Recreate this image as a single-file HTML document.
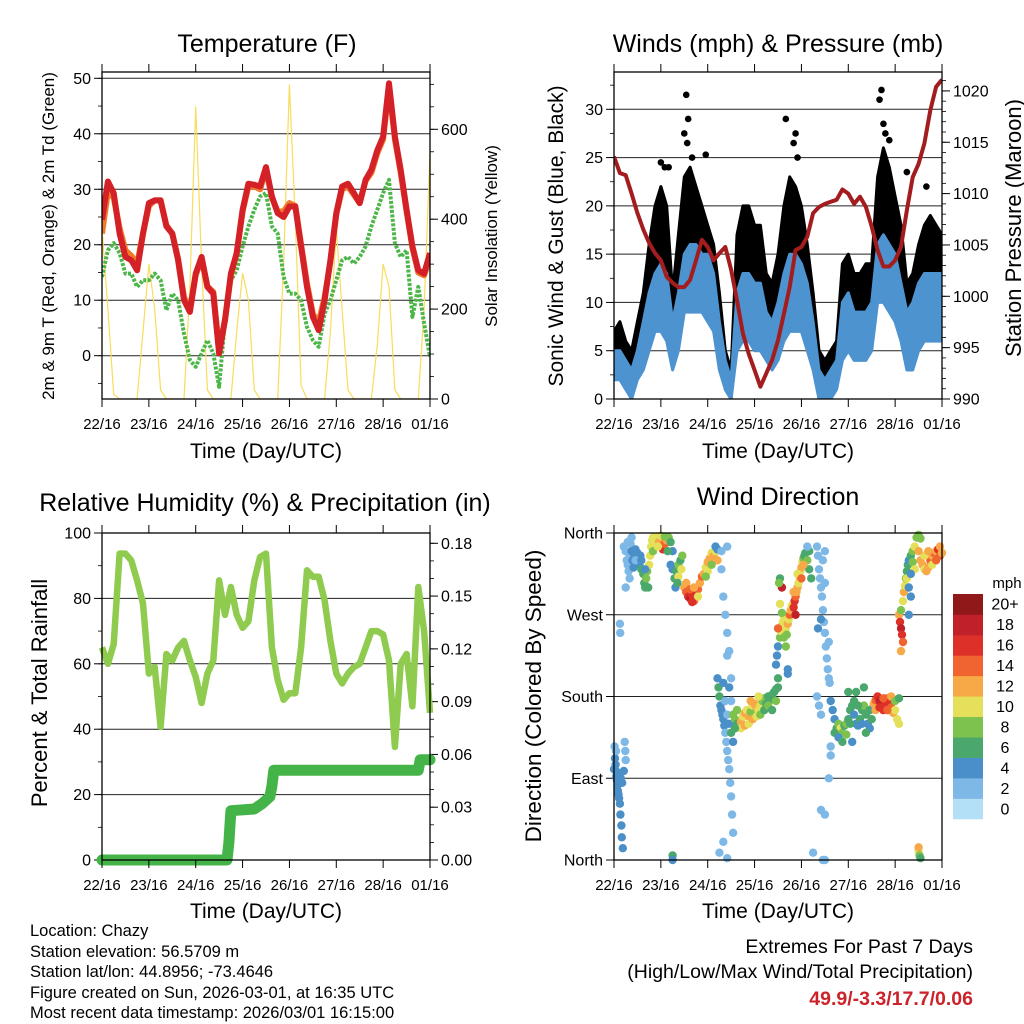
<!DOCTYPE html>
<html><head><meta charset="utf-8"><style>
html,body{margin:0;padding:0;background:#fff}
svg{display:block;font-family:"Liberation Sans",Arial,sans-serif}
</style></head><body>
<svg id="fig" width="1024" height="1024" viewBox="0 0 1024 1024" xmlns="http://www.w3.org/2000/svg">
<rect width="1024" height="1024" fill="#fff"/>
<g id="p1"></g>
<g id="p2"></g>
<g id="p3"></g>
<g id="p4"></g>
<g font-size="16.5" fill="#000">
<text x="30" y="936">Location: Chazy</text>
<text x="30" y="957">Station elevation: 56.5709 m</text>
<text x="30" y="977">Station lat/lon: 44.8956; -73.4646</text>
<text x="30" y="998">Figure created on Sun, 2026-03-01, at 16:35 UTC</text>
<text x="30" y="1018">Most recent data timestamp: 2026/03/01 16:15:00</text>
</g>
<g font-size="19.5" text-anchor="end">
<text x="973" y="953">Extremes For Past 7 Days</text>
<text x="973" y="978">(High/Low/Max Wind/Total Precipitation)</text>
<text x="973" y="1005" font-weight="bold" fill="#cc2229">49.9/-3.3/17.7/0.06</text>
</g>
</svg>
<script>
// ---- shared time axis ----
const dayLabels = ["22/16","23/16","24/16","25/16","26/16","27/16","28/16","01/16"];
const hours3 = [];
for (let i = 0; i <= 56; i++) hours3.push(i * 3);

// ---- Panel 1: temperature ----
const temp2m = [24.5,31.4,29.3,22,17.8,17.2,15.4,22,27.5,28,28,23.3,22,17.2,10,7.9,14.8,17.8,12.4,11.2,0.4,6.4,14.8,18.5,26.3,31,30.8,30.5,34,28.7,25.7,25,26.9,26.9,19.7,12.4,7,4.6,10,17.2,25.7,30.5,31,29.3,27.5,31.7,33.5,37,39.5,49.1,39.5,33.5,26.3,19.7,15.4,14.8,18.5];
const temp9m = [22,29.5,28.5,23,19,18,16.5,22,27,28,28,23.5,22,17.5,10.5,8.5,14.5,17.5,12.5,11.5,1,6.5,14.5,18.5,26,30.5,30.5,30,33.5,28.5,26,26,27.5,27,20,13,7.5,6,10.5,17,25.5,30,30.5,29,27.5,31.5,33,36.5,39,48.5,39,33,26,19.5,15,14.5,17.5];
const dewpoint = [14.2,19,20.3,18.5,14.8,14.8,12.4,13.6,13.6,14.8,13.6,8.2,11.2,10,4,-0.8,-2,0.4,2.8,0.4,-5.6,6.4,13.6,15.4,19.7,23.3,26.3,28.7,29.3,23.3,22,14.2,11.2,11.2,10,5.2,2.8,1.6,7.6,10,13.6,17.2,17.8,16.6,17.8,19.7,23.3,26.3,29.3,31.7,20.3,17.8,19,7,12.4,5.8,-0.2];
const solar = [380,200,10,0,0,0,0,150,300,200,20,0,0,0,0,250,650,300,20,0,0,0,0,150,280,220,20,0,0,0,0,300,700,400,30,0,0,0,0,150,380,200,20,0,0,0,0,120,300,250,20,0,0,0,0,200,550];
const tempTicks = [0,10,20,30,40,50];
const solarTicks = [0,200,400,600];

// ---- Panel 2: winds & pressure ----
const windLo = [2,2,1,0,2,3,5,7,7,6,3,5,9,9,9,9,8,7,3,1,0,5,6,6,5,5,4,3,4,6,7,7,7,5,3,0,0,0,1,4,5,4,4,4,5,10,10,9,8,6,3,3,5,6,6,6,6];
const windHi = [5,5,4,3,5,8,11,13,14,13,8,11,15,16,16,15,15,13,8,4,2,11,13,13,12,12,9,8,10,13,15,15,14,12,8,3,2,3,4,10,11,9,9,9,10,16,17,16,15,12,9,10,12,13,13,13,13];
const gustLo = [4,4,3,3,4,5,9,11,12,10,5,8,12,14,13,12,12,10,5,1,0,8,10,10,9,9,7,7,8,10,11,12,11,9,5,0,0,1,2,7,8,6,6,7,8,15,16,14,12,10,6,7,9,10,10,10,10];
const gustHi = [7,8,6,5,8,11,16,20,22,20,11,17,23,24,22,20,18,16,11,5,3,17,20,20,18,18,13,12,15,20,23,22,20,16,11,5,4,5,6,14,15,13,13,14,14,23,26,24,21,18,12,13,16,18,19,18,17];
const gustPeakTimes = [37,38,36,37.5,88,93,92,94,137,136,138,141,139,160,24,26,28,47,40,150];
const gustPeakValues = [31.5,29,27.5,26.5,29,27.5,26.5,25,32,31,28.5,26.8,27.5,22,24.5,24,24,25.3,25,23.5];
const pressure = [1013.6,1012,1011.8,1010,1008.1,1006.5,1005.2,1004.2,1003.5,1001.9,1001.3,1000.9,1000.9,1001.6,1003.5,1005.5,1004.8,1003.5,1004.2,1004.8,1002.6,999.6,996.4,994.4,992.8,991.2,992.5,993.8,995.7,998.3,1000.9,1004.5,1004.8,1005.8,1008.1,1008.7,1009,1009.2,1009.4,1010.4,1010,1009,1009.7,1008.7,1006.8,1004.5,1002.9,1002.9,1003.5,1004.8,1008.4,1011.6,1012.9,1014.9,1018.1,1020.4,1021.1];
const windTicks = [0,5,10,15,20,25,30];
const pressTicks = [990,995,1000,1005,1010,1015,1020];

// ---- Panel 3: RH & precip ----
const rh = [65,60,66,93.7,93.7,91.6,85.5,78.4,57,59,40.7,63,61,65,67,61,56,48,57,61,85.5,75,83.5,75,71,73,85.5,92.7,93.7,65,55,49,51,51,65,88.6,86.6,86.6,79.4,67,57,54,57,59,60,65,70,70,69,61,34.6,60,63,47,83.5,70,45];
const precipTimes = [0,64,65,66,78,82,86,87,88,162,163,168];
const precipValues = [0,0,0.01,0.028,0.029,0.032,0.036,0.042,0.051,0.051,0.057,0.057];
const rhTicks = [0,20,40,60,80,100];
const precipTicks = [0,0.03,0.06,0.09,0.12,0.15,0.18];
const precipTickLabels = ["0.00","0.03","0.06","0.09","0.12","0.15","0.18"];

// ---- Panel 4: wind direction [hour, degrees, mph] ----
const dirPoints = [
[0.3,125,2],[0.5,112,4],[0.8,105,4],[1,98,4],[1.2,92,4],[1.5,88,4],[1.8,82,4],[2,76,4],[2.3,72,4],[2.6,68,4],[3,62,4],[3.3,50,4],[3.8,38,4],[4,25,4],[4.5,13,4],[5.5,130,2],[5.8,120,2],[6,110,2],[1,120,2],[2.5,95,4],[3.5,90,4],[4.2,85,4],[0,100,4],[5,98,4],
[5,345,2],[6,340,2],[6.5,330,2],[7,325,2],[7.5,318,2],[8,335,2],[8.5,348,2],[9,340,4],[9.5,330,4],[10,322,4],[10.5,335,4],[11,342,4],[12,338,4],[12.5,330,4],[13,325,4],[13.5,335,4],[14,320,6],[15,315,6],[15.5,305,6],[16,300,6],[16.5,310,8],[17,318,8],[18,325,10],[18.5,335,10],[19,345,10],[19.5,352,10],[20,355,10],[7,350,2],[8,310,2],[6,300,2],[9,355,2],[11,330,2],[14,330,4],[16,320,4],[17.5,300,6],[20,340,8],
[22,355,10],[23,350,12],[24,345,14],[25,342,16],[26,348,14],[27,352,12],[28,355,8],[29,350,6],[30,340,4],[24,357,10],[26,356,8],[22.5,345,10],[27.5,340,6],[29,325,4],
[30,320,4],[31,310,6],[31.5,300,4],[32,318,6],[33,325,8],[34,330,6],[35,335,8],[33,312,10],[34.5,320,10],[32.5,305,6],
[36,300,12],[37,295,14],[38,290,16],[39,288,18],[40,292,16],[41,285,14],[42,290,16],[43,298,14],[44,305,12],[45,312,14],[37,305,12],[39,298,14],[41,300,12],[43,290,10],[40,284,16],
[46,315,12],[47,322,10],[48,328,12],[49,332,12],[50,338,10],[51,335,12],[52,340,10],[53,330,12],[48,318,10],[50,325,8],[47,312,8],[52,345,4],[53,342,4],
[55,320,2],[56,290,2],[57,270,2],[58,250,2],[59,230,2],[55,340,2],[60,200,2],[58,225,2],[3,260,2],[3.2,250,2],[58,345,2],
[53,200,4],[53.5,190,6],[54,180,6],[54.5,170,4],[55,165,4],[55.5,160,4],[56,155,4],[56.5,148,4],[57,140,2],[57.5,130,2],[58,120,2],[58.5,110,2],[59,100,2],[59.5,85,2],[60,70,2],[60.5,50,2],[61,30,2],[56,195,4],[57,175,2],[58,160,2],[59,150,4],[60,140,6],[61,130,4],[54,8,2],[58,2,2],[56,20,2],[60,175,2],[59,190,4],
[61,160,8],[62,155,8],[63,150,6],[64,148,6],[65,152,12],[66,158,10],[67,162,12],[68,165,10],[69,158,12],[70,163,8],[71,170,10],[72,172,12],[73,168,12],[74,165,10],[75,170,10],[76,175,8],[77,178,8],[78,172,6],[79,180,6],[80,176,6],[81,182,6],[82,185,6],[83,188,6],[84,190,6],[65,145,10],[67,148,12],[69,150,10],[71,155,12],[73,158,10],[75,160,8],[77,165,6],[62,145,6],[63,165,8],[70,175,12],[74,180,10],[79,170,8],[81,165,6],[83,175,8],[84,200,6],
[83,215,4],[83.5,225,4],[84,235,4],[85,245,8],[85.5,252,10],[86,258,12],[86.5,262,10],[87,268,10],[88,255,10],[88.5,248,8],[89,260,12],[89.5,265,10],[90,270,14],[90.5,275,12],[91,280,10],[87,245,8],[85,282,10],[86,272,8],[84,255,14],[88,235,8],[89,210,4],[89,205,4],[85,310,6],[86,300,18],[84.5,305,8],
[92,278,16],[92.5,285,16],[93,290,14],[93.5,295,12],[94,300,12],[94.5,305,10],[95,312,12],[95.5,318,10],[96,322,12],[96.5,328,10],[97,332,8],[97.5,335,6],[98,338,6],[99,330,8],[100,320,6],[101,310,6],[92,295,12],[94,315,10],[96,310,14],[97,325,12],[93,270,18],[100,340,6],[99,345,2],
[104,345,2],[104.5,335,2],[105,320,2],[105.5,310,2],[106,300,2],[106.5,290,2],[107,275,2],[107.5,262,2],[108,250,2],[108.5,235,2],[109,222,2],[109.5,210,2],[110,200,2],[110.5,195,2],[104,180,2],[105,170,2],[106,160,2],[104.5,255,4],[106,265,4],[108,305,2],[107,330,2],[108,340,2],[110,240,2],[110,90,2],[111,125,2],[111,115,2],[106,55,2],[108,50,2],[102,8,2],[107,0,2],[108,0,2],
[111,175,4],[112,165,4],[113,155,4],[114,145,6],[115,150,8],[116,145,10],[117,140,8],[118,148,6],[119,150,8],[120,155,6],[121,165,6],[122,170,6],[123,160,4],[124,150,4],[125,148,4],[126,155,6],[127,165,6],[128,170,8],[129,160,6],[130,150,4],[131,145,4],[132,155,6],[113,140,6],[115,135,4],[117,130,6],[119,138,8],[121,150,6],[123,175,6],[125,170,6],[127,150,4],[129,140,6],[131,165,6],[133,170,4],[120,185,6],[124,185,6],[128,190,6],[122,130,4],
[133,172,12],[134,176,14],[135,180,16],[136,175,18],[137,170,18],[138,165,16],[139,172,16],[140,178,14],[141,175,16],[142,168,14],[143,162,12],[144,165,10],[145,155,10],[146,150,10],[134,165,12],[136,168,16],[138,178,14],[140,165,14],[142,180,12],[144,175,8],[146,178,6],
[146,270,12],[146.5,262,16],[147,255,18],[147.5,248,16],[148,240,14],[147,230,12],
[147,275,8],[148,285,10],[148.5,295,12],[149,302,10],[149.5,310,8],[150,318,6],[150.5,325,6],[151,330,4],[152,335,6],[153,340,8],[154,345,10],[155,355,8],[156,358,8],[157,354,8],[151,300,4],[152,290,4],[150,310,10],[153,328,8],[154,320,10],[152,315,4],[151,270,4],
[157,330,12],[158,325,12],[159,320,10],[160,318,12],[161,322,12],[162,330,14],[163,335,12],[164,338,14],[165,340,12],[166,342,16],[167,335,14],[168,338,12],[159,335,10],[161,340,12],[163,325,10],[165,330,14],[167,345,12],[156,340,12],
[156,10,10],[156.5,5,8],[157,2,6],[156,14,12],[30,5,6],[30,0,4]
];
const dirTicks = [0,90,180,270,360];
const dirTickLabels = ["North","East","South","West","North"];
const speedBinLabels = ["0","2","4","6","8","10","12","14","16","18","20+"];
const speedBinColors = ["#b3e0f7","#7db8e6","#4a8fc8","#4aa86c","#7dc24e","#e5e05a","#f7a847","#f06430","#dc3028","#c0202a","#901818"];

// ---- helpers ----
const NS = "http://www.w3.org/2000/svg";
function mk(parent, tag, attrs) {
  const e = document.createElementNS(NS, tag);
  for (const k in attrs) e.setAttribute(k, attrs[k]);
  parent.appendChild(e);
  return e;
}
function txt(parent, x, y, s, size, anchor, extra) {
  const t = mk(parent, "text", Object.assign({x: x, y: y, "font-size": size, "text-anchor": anchor || "start"}, extra || {}));
  t.textContent = s;
  return t;
}
function linScale(d0, d1, r0, r1) { return v => r0 + (v - d0) / (d1 - d0) * (r1 - r0); }

function frame(g, box, name) {
  const r = mk(g, "rect", {x: box.x0, y: box.y0, width: box.x1 - box.x0, height: box.y1 - box.y0, fill: "none", stroke: "#000", "stroke-width": 1.3});
  
  
}
function timeAxis(g, box, xs, labelY) {
  const ax = mk(g, "g", {});
  
  
  for (let d = 0; d < dayLabels.length; d++) {
    const x = xs(d * 24);
    mk(ax, "line", {x1: x, x2: x, y1: box.y1, y2: box.y1 + 8, stroke: "#000", "stroke-width": 1});
    mk(ax, "line", {x1: x, x2: x, y1: box.y0, y2: box.y0 - 8, stroke: "#000", "stroke-width": 1});
    const t = txt(ax, x, box.y1 + 30, dayLabels[d], 15, "middle");
    
    
  }
  const t = txt(ax, (box.x0 + box.x1) / 2, labelY, "Time (Day/UTC)", 21, "middle");
  
  
}
function yAxis(g, box, ys, ticks, labels, side, minorStep, minMax, grid) {
  const ax = mk(g, "g", {});
  
  
  const xe = side === "left" ? box.x0 : box.x1;
  const dir = side === "left" ? -1 : 1;
  if (minorStep) {
    for (let v = minMax[0]; v <= minMax[1] + 1e-9; v += minorStep) {
      const y = ys(v);
      if (y < box.y0 - 0.5 || y > box.y1 + 0.5) continue;
      mk(ax, "line", {x1: xe, x2: xe + dir * 4, y1: y, y2: y, stroke: "#000", "stroke-width": 0.8});
    }
  }
  ticks.forEach((v, i) => {
    const y = ys(v);
    if (grid) mk(ax, "line", {x1: box.x0, x2: box.x1, y1: y, y2: y, stroke: "#222", "stroke-width": 1});
    mk(ax, "line", {x1: xe, x2: xe + dir * 8, y1: y, y2: y, stroke: "#000", "stroke-width": 1});
    const t = txt(ax, xe + dir * 11, y + 5.5, labels[i], 16, side === "left" ? "end" : "start");
    
    
  });
}
function vtitle(g, x, y, s, size, name) {
  const t = txt(g, 0, 0, s, size, "middle", {transform: "translate(" + x + "," + y + ") rotate(-90)"});
  
  
}
function ptitle(g, x, y, s, name) {
  const t = txt(g, x, y, s, 25, "middle");
  
  
}
function pathFrom(ts, vs, xs, ys) {
  return ts.map((t, i) => (i ? "L" : "M") + xs(t).toFixed(1) + "," + ys(vs[i]).toFixed(1)).join("");
}
function bandFrom(ts, lo, hi, xs, ys) {
  let d = ts.map((t, i) => (i ? "L" : "M") + xs(t).toFixed(1) + "," + ys(hi[i]).toFixed(1)).join("");
  for (let i = ts.length - 1; i >= 0; i--) d += "L" + xs(ts[i]).toFixed(1) + "," + ys(lo[i]).toFixed(1);
  return d + "Z";
}

// ---- Panel 1 ----
(function () {
  const g = document.getElementById("p1");
  const box = {x0: 102, x1: 430, y0: 72, y1: 399};
  const xs = linScale(0, 168, box.x0, box.x1);
  const yT = linScale(0, 50, 355.7, 78.3);
  const yS = linScale(0, 600, 399, 129.3);
  const clip = mk(g, "clipPath", {id: "c1"});
  mk(clip, "rect", {x: box.x0, y: box.y0, width: box.x1 - box.x0, height: box.y1 - box.y0});
  yAxis(g, box, yT, tempTicks, tempTicks.map(String), "left", 5, [-5, 50], true);
  yAxis(g, box, yS, solarTicks, solarTicks.map(String), "right", 50, [0, 700], false);
  const d = mk(g, "g", {"clip-path": "url(#c1)"});
  let p = mk(d, "path", {d: pathFrom(hours3, solar, xs, yS), fill: "none", stroke: "#f8dc5a", "stroke-width": 1.2});
  
  
  p = mk(d, "path", {d: pathFrom(hours3, dewpoint, xs, yT), fill: "none", stroke: "#4cb648", "stroke-width": 4, "stroke-dasharray": "3 1.5", "stroke-linejoin": "round"});
  
  
  p = mk(d, "path", {d: pathFrom(hours3, temp9m, xs, yT), fill: "none", stroke: "#f07a2a", "stroke-width": 6, "stroke-linejoin": "round"});
  
  
  p = mk(d, "path", {d: pathFrom(hours3, temp2m, xs, yT), fill: "none", stroke: "#d42027", "stroke-width": 6, "stroke-linejoin": "round"});
  
  
  frame(g, box, "temperature-plot-frame");
  timeAxis(g, box, xs, 458);
  ptitle(g, 267, 52, "Temperature (F)", "temperature-title");
  vtitle(g, 54, 236, "2m & 9m T (Red, Orange) & 2m Td (Green)", 17, "temperature-y-title");
  vtitle(g, 497, 236, "Solar Insolation (Yellow)", 17, "solar-y-title");
})();

// ---- Panel 2 ----
(function () {
  const g = document.getElementById("p2");
  const box = {x0: 614, x1: 942, y0: 72, y1: 399};
  const xs = linScale(0, 168, box.x0, box.x1);
  const yW = linScale(0, 30, 399, 109.3);
  const yP = linScale(990, 1020, 399, 90.9);
  const clip = mk(g, "clipPath", {id: "c2"});
  mk(clip, "rect", {x: box.x0, y: box.y0, width: box.x1 - box.x0, height: box.y1 - box.y0});
  yAxis(g, box, yW, windTicks, windTicks.map(String), "left", 2.5, [0, 32.5], true);
  yAxis(g, box, yP, pressTicks, pressTicks.map(String), "right", 1, [990, 1022], false);
  const d = mk(g, "g", {"clip-path": "url(#c2)"});
  let p = mk(d, "path", {d: bandFrom(hours3, gustLo, gustHi, xs, yW), fill: "#000", stroke: "#000", "stroke-width": 3, "stroke-linejoin": "round"});
  
  
  gustPeakTimes.forEach((t, i) => {
    const c = mk(d, "circle", {cx: xs(t), cy: yW(gustPeakValues[i]), r: 3.3, fill: "#000"});
    
    
  });
  p = mk(d, "path", {d: bandFrom(hours3, windLo, windHi, xs, yW), fill: "#4d93d0", stroke: "#4d93d0", "stroke-width": 3, "stroke-linejoin": "round"});
  
  
  p = mk(d, "path", {d: pathFrom(hours3, pressure, xs, yP), fill: "none", stroke: "#a31d1f", "stroke-width": 4, "stroke-linejoin": "round"});
  
  
  frame(g, box, "winds-plot-frame");
  timeAxis(g, box, xs, 458);
  ptitle(g, 778, 52, "Winds (mph) & Pressure (mb)", "winds-title");
  vtitle(g, 563, 236, "Sonic Wind & Gust (Blue, Black)", 21, "wind-y-title");
  vtitle(g, 1021, 228, "Station Pressure (Maroon)", 22, "pressure-y-title");
})();

// ---- Panel 3 ----
(function () {
  const g = document.getElementById("p3");
  const box = {x0: 102, x1: 430, y0: 533, y1: 860};
  const xs = linScale(0, 168, box.x0, box.x1);
  const yR = linScale(0, 100, 860, 533);
  const yPr = linScale(0, 0.18, 860, 543.3);
  const clip = mk(g, "clipPath", {id: "c3"});
  mk(clip, "rect", {x: box.x0 - 6, y: box.y0, width: box.x1 - box.x0 + 12, height: box.y1 - box.y0 + 6});
  yAxis(g, box, yR, rhTicks, rhTicks.map(String), "left", 10, [0, 100], true);
  yAxis(g, box, yPr, precipTicks, precipTickLabels, "right", 0.01, [0, 0.185], false);
  const d = mk(g, "g", {"clip-path": "url(#c3)"});
  let p = mk(d, "path", {d: pathFrom(hours3, rh, xs, yR), fill: "none", stroke: "#8fcb4e", "stroke-width": 6.5, "stroke-linejoin": "round"});
  
  
  p = mk(d, "path", {d: pathFrom(precipTimes, precipValues, xs, yPr), fill: "none", stroke: "#44b449", "stroke-width": 11, "stroke-linejoin": "round", "stroke-linecap": "round"});
  
  
  frame(g, box, "humidity-plot-frame");
  timeAxis(g, box, xs, 918);
  ptitle(g, 265, 511, "Relative Humidity (%) & Precipitation (in)", "humidity-title");
  vtitle(g, 47, 693, "Percent & Total Rainfall", 22, "humidity-y-title");
})();

// ---- Panel 4 ----
(function () {
  const g = document.getElementById("p4");
  const box = {x0: 614, x1: 942, y0: 533, y1: 860};
  const xs = linScale(0, 168, box.x0, box.x1);
  const yD = linScale(0, 360, 860, 533);
  yAxis(g, box, yD, dirTicks, dirTickLabels, "left", 0, null, true);
  const d = mk(g, "g", {});
  
  
  dirPoints.forEach(pt => {
    const bin = Math.max(0, Math.min(10, Math.round(pt[2] / 2)));
    const c = mk(d, "circle", {cx: xs(pt[0]).toFixed(1), cy: yD(pt[1]).toFixed(1), r: 4.2, fill: speedBinColors[bin]});
    
    
  });
  frame(g, box, "direction-plot-frame");
  timeAxis(g, box, xs, 918);
  ptitle(g, 778, 505, "Wind Direction", "direction-title");
  vtitle(g, 541, 696, "Direction (Colored By Speed)", 22.5, "direction-y-title");
  // colorbar
  const cb = mk(g, "g", {});
  
  
  const top = 594, h = 225 / 11;
  speedBinColors.forEach((col, i) => {
    const y = top + (10 - i) * h;
    const r = mk(cb, "rect", {x: 953, y: y, width: 30, height: h + 0.3, fill: col});
    
    
    const t = txt(cb, 1005, y + h / 2 + 5.5, speedBinLabels[i], 16, "middle");
    
    
  });
  const u = txt(cb, 1007, 588, "mph", 15, "middle");
  
  
})();
</script>
</body></html>
